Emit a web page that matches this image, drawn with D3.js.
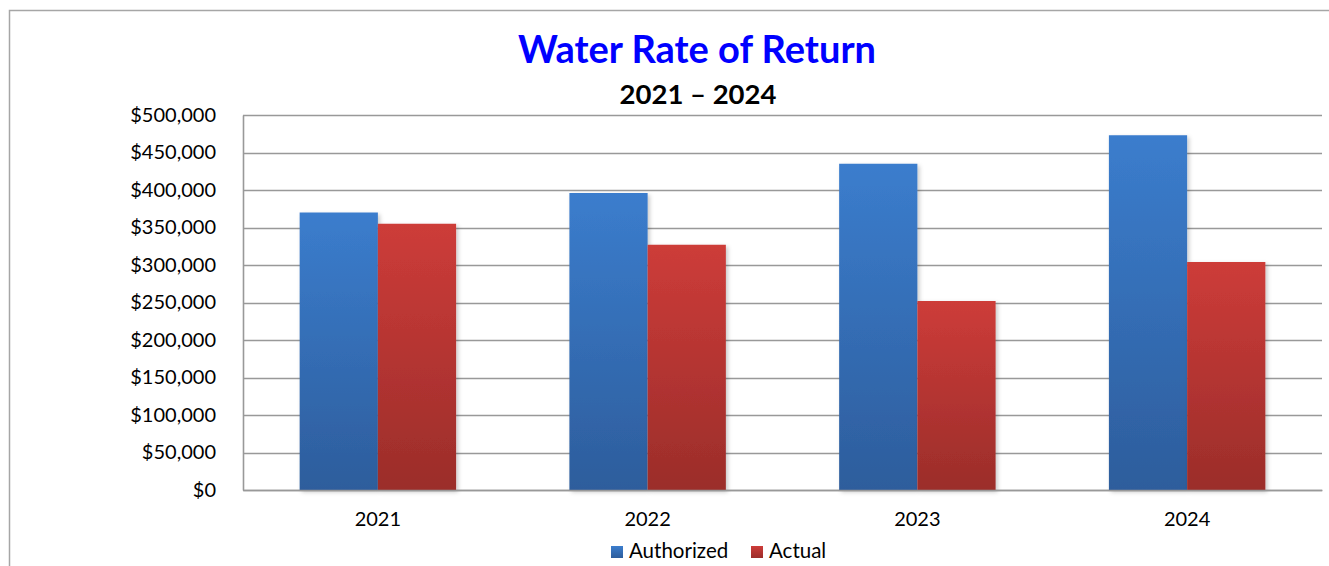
<!DOCTYPE html>
<html>
<head>
<meta charset="utf-8">
<script src="https://cdn.jsdelivr.net/npm/d3@7"></script>
<style>
  html, body { margin: 0; padding: 0; background: #fff; }
  svg { display: block; }
  svg text { font-family: Lato, "Open Sans", sans-serif; }
</style>
</head>
<body>
<svg id="chart" width="1329" height="566"></svg>
<script>
// Chart data
const years = ["2021", "2022", "2023", "2024"];
const seriesNames = ["Authorized", "Actual"];
const authorized = [370000, 396000, 435000, 473000];
const actual = [355000, 327000, 252000, 304000];
const yTicks = [0, 50000, 100000, 150000, 200000, 250000, 300000, 350000, 400000, 450000, 500000];

const svg = d3.select("#chart");
const W = 1329, H = 566;
const plot = { left: 243, right: 1322, top: 115, bottom: 490 };

// Gradients and shadow
const defs = svg.append("defs");
const grads = [
  { id: "gBlue", top: "#3b7dcd", bottom: "#2d5d9c" },
  { id: "gRed", top: "#cd3c39", bottom: "#9b2d2a" }
];
grads.forEach(g => {
  const lg = defs.append("linearGradient").attr("id", g.id)
    .attr("x1", 0).attr("y1", 0).attr("x2", 0).attr("y2", 1);
  lg.append("stop").attr("offset", "0%").attr("stop-color", g.top);
  lg.append("stop").attr("offset", "100%").attr("stop-color", g.bottom);
});
const f = defs.append("filter").attr("id", "shadow")
  .attr("x", "-20%").attr("y", "-5%").attr("width", "140%").attr("height", "115%");
f.append("feDropShadow").attr("dx", 2).attr("dy", 2).attr("stdDeviation", 2)
  .attr("flood-color", "#000").attr("flood-opacity", 0.22);

// Outer frame (open on the right and bottom)
svg.append("path")
  .attr("d", `M9.5,${H} V10.5 H${W}`)
  .attr("fill", "none").attr("stroke", "#a6a6a6").attr("stroke-width", 1.5);

// Scales
const y = d3.scaleLinear().domain([0, 500000]).range([plot.bottom, plot.top]);
const x0 = d3.scaleBand().domain(years).range([plot.left, plot.right]).paddingInner(0.42).paddingOuter(0.21);
const x1 = d3.scaleBand().domain(seriesNames).range([0, x0.bandwidth()]);

// Gridlines
svg.append("g").selectAll("line").data(yTicks).join("line")
  .attr("x1", plot.left).attr("x2", plot.right)
  .attr("y1", d => Math.round(y(d)) + 0.5).attr("y2", d => Math.round(y(d)) + 0.5)
  .attr("stroke", "#999").attr("stroke-width", 1.6);

// Y axis
const yAxis = d3.axisLeft(y).tickValues(yTicks).tickSize(0).tickPadding(27)
  .tickFormat(d => "$" + d3.format(",")(d));
const gy = svg.append("g").attr("transform", `translate(${plot.left},0)`).call(yAxis)
  .attr("font-family", null).attr("font-size", 20);
gy.select(".domain").attr("stroke", "#999").attr("stroke-width", 1.6);
gy.selectAll("text").attr("fill", "#000");

// Bars
const colors = { Authorized: "url(#gBlue)", Actual: "url(#gRed)" };
const rows = years.map((yr, i) => ({ year: yr, Authorized: authorized[i], Actual: actual[i] }));
svg.append("g").selectAll("g").data(rows).join("g")
  .attr("transform", d => `translate(${x0(d.year)},0)`)
  .selectAll("rect").data(d => seriesNames.map(s => ({ s, v: d[s] }))).join("rect")
  .attr("x", d => x1(d.s)).attr("width", x1.bandwidth())
  .attr("y", d => y(d.v)).attr("height", d => y(0) - y(d.v))
  .attr("fill", d => colors[d.s]).attr("filter", "url(#shadow)");

// X axis
const xAxis = d3.axisBottom(x0).tickSize(0).tickPadding(22);
const gx = svg.append("g").attr("transform", `translate(0,${plot.bottom})`).call(xAxis)
  .attr("font-family", null).attr("font-size", 20);
gx.select(".domain").attr("stroke", "#999").attr("stroke-width", 1.6);
gx.selectAll("text").attr("fill", "#000");

// Titles
svg.append("text").attr("x", 697).attr("y", 63).attr("text-anchor", "middle")
  .attr("font-size", 38).attr("font-weight", "bold").attr("fill", "#0000ff")
  .text("Water Rate of Return");
svg.append("text").attr("x", 698).attr("y", 104).attr("text-anchor", "middle")
  .attr("font-size", 27.5).attr("font-weight", "bold").attr("fill", "#000")
  .text("2021 – 2024");

// Legend
const legendItems = [
  { name: "Authorized", fill: "url(#gBlue)", x: 611 },
  { name: "Actual", fill: "url(#gRed)", x: 751 }
];
const lg = svg.append("g");
legendItems.forEach(it => {
  lg.append("rect").attr("x", it.x).attr("y", 546).attr("width", 12).attr("height", 12)
    .attr("fill", it.fill);
  lg.append("text").attr("x", it.x + 18).attr("y", 558).attr("font-size", 20.5)
    .attr("fill", "#000").text(it.name);
});
</script>
</body>
</html>
